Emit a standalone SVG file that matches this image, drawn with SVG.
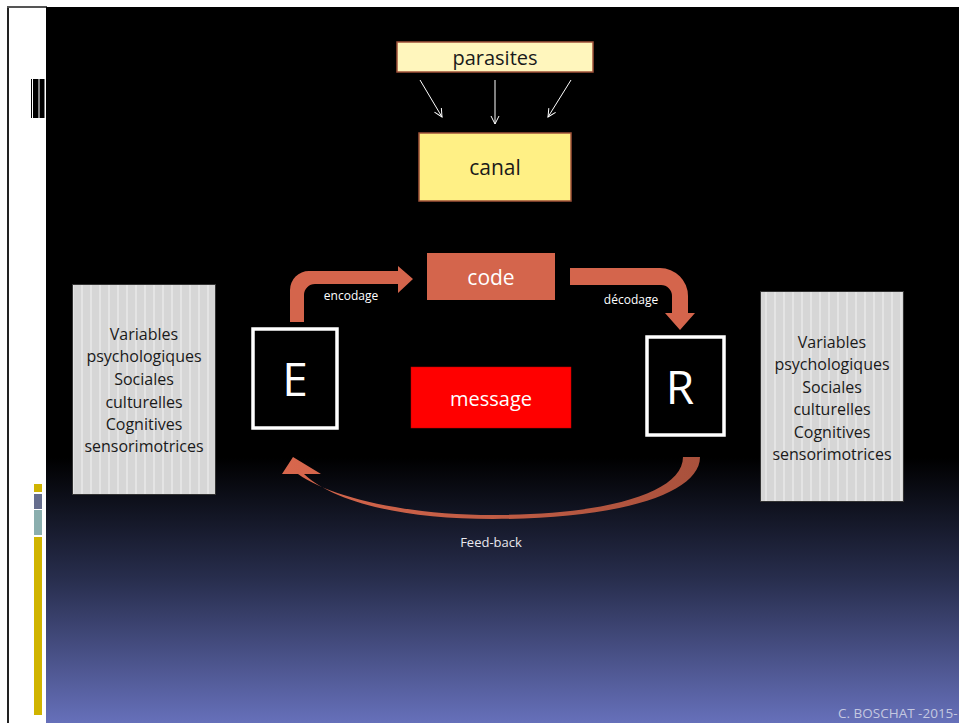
<svg xmlns="http://www.w3.org/2000/svg" width="959" height="723" viewBox="0 0 959 723">
  <defs>
    <linearGradient id="panelBg" x1="0" y1="7" x2="0" y2="723" gradientUnits="userSpaceOnUse">
      <stop offset="0" stop-color="#000000"/>
      <stop offset="0.63" stop-color="#000000"/>
      <stop offset="0.8" stop-color="#282e4e"/>
      <stop offset="1" stop-color="#6670ba"/>
    </linearGradient>
    <linearGradient id="feedFill" x1="700" y1="0" x2="282" y2="0" gradientUnits="userSpaceOnUse">
      <stop offset="0" stop-color="#a9513c"/>
      <stop offset="1" stop-color="#d8674d"/>
    </linearGradient>
    <pattern id="stripes" x="72" y="0" width="9" height="10" patternUnits="userSpaceOnUse">
      <rect width="9" height="10" fill="#d6d6d6"/>
      <rect x="0" width="2" height="10" fill="#e4e4e4"/>
    </pattern>
    <marker id="openHead" viewBox="0 0 10 10" refX="9" refY="5" markerWidth="10" markerHeight="10" markerUnits="userSpaceOnUse" orient="auto">
      <path d="M1,1 L9,5 L1,9" fill="none" stroke="#ffffff" stroke-width="1"/>
    </marker>
    <style>
      .lbl { font-family: "Open Sans", "Liberation Sans", sans-serif; text-anchor: middle; }
      .dark { fill: #1a1a1a; }
      .white { fill: #ffffff; }
      .var { font-size: 16px; fill: #1a1a1a; }
      .small { font-size: 12px; fill: #ffffff; }
      .yel { stroke: #a0523a; stroke-width: 1.5; }
      .varbox { fill: url(#stripes); stroke: #333333; stroke-width: 1; }
      .agent { fill: #000000; stroke: #ffffff; stroke-width: 3.5; }
      .thin { stroke: #ffffff; stroke-width: 1; fill: none; marker-end: url(#openHead); }
      .band { fill: #d4654c; }
    </style>
  </defs>

  <!-- page and slide frame -->
  <rect x="0" y="0" width="959" height="723" fill="#ffffff"/>
  <rect x="7" y="6" width="2" height="717" fill="#222222"/>
  <rect x="7" y="6" width="40" height="2" fill="#555555"/>
  <rect x="46" y="7" width="913" height="716" fill="url(#panelBg)"/>

  <!-- left margin ornaments -->
  <g id="ornaments">
    <rect x="31" y="79" width="1" height="39" fill="#000000"/>
    <rect x="33" y="79" width="5.5" height="39" fill="#000000"/>
    <rect x="39.5" y="79" width="5" height="39" fill="#000000"/>
    <rect x="34" y="484" width="8" height="8" fill="#d0b400"/>
    <rect x="34" y="494" width="8" height="15" fill="#666e8e"/>
    <rect x="34" y="510" width="8" height="25" fill="#8aaeae"/>
    <rect x="34" y="537" width="8" height="178" fill="#d0b400"/>
  </g>

  <!-- connectors -->
  <g id="connectors">
    <line class="thin" x1="420" y1="80" x2="442" y2="117"/>
    <line class="thin" x1="495" y1="80" x2="495" y2="124"/>
    <line class="thin" x1="571" y1="80" x2="548" y2="117"/>
    <path id="encodage" class="band" d="M290,322 L290,290 A19,19 0 0 1 309,271 L398,271 L398,266 L413,279 L398,293 L398,284 L315,284 A11,11 0 0 0 304,295 L304,322 Z"/>
    <path id="decodage" class="band" d="M570,268 L660,268 A28,28 0 0 1 688,296 L688,313 L695,313 L680,330 L665,313 L672,313 L672,296 A11,11 0 0 0 661,285 L570,285 Z"/>
    <path id="feedback" fill="url(#feedFill)" d="M683,457 L700,457 C700,494 618,519 493,519 C405,519 335,503 304,474 L321,474 L293,457 L282,474 L298,474 C330,497 405,515 493,515 C602,515 683,494 683,457 Z"/>
    <text class="lbl small" x="351" y="300">encodage</text>
    <text class="lbl small" x="631" y="304">décodage</text>
    <text class="lbl" x="491" y="547" font-size="13" fill="#e8e8ee">Feed-back</text>
  </g>

  <g id="parasites">
    <rect class="yel" x="397" y="42" width="196" height="30" fill="#fff6bd"/>
    <text class="lbl dark" x="495" y="65" font-size="20">parasites</text>
  </g>

  <g id="canal">
    <rect class="yel" x="419" y="133" width="152" height="68" fill="#fff085"/>
    <text class="lbl dark" x="495" y="175" font-size="21">canal</text>
  </g>

  <g id="code">
    <rect x="427" y="253" width="128" height="47" fill="#d4654c"/>
    <text class="lbl white" x="491" y="285" font-size="21">code</text>
  </g>

  <g id="message">
    <rect x="411" y="367" width="160" height="61" fill="#ff0000" stroke="#c00000" stroke-width="0.5"/>
    <text class="lbl white" x="491" y="406" font-size="20">message</text>
  </g>

  <g id="emetteur">
    <rect class="agent" x="253" y="329" width="84" height="99"/>
    <text class="lbl white" x="295" y="396" font-size="46">E</text>
  </g>

  <g id="recepteur">
    <rect class="agent" x="647" y="337" width="77" height="98"/>
    <text class="lbl white" x="680" y="404" font-size="46">R</text>
  </g>

  <g id="variables-e">
    <rect class="varbox" x="72.5" y="284.5" width="143" height="210"/>
    <text class="lbl var" x="144" y="340">Variables</text>
    <text class="lbl var" x="144" y="362">psychologiques</text>
    <text class="lbl var" x="144" y="385">Sociales</text>
    <text class="lbl var" x="144" y="408">culturelles</text>
    <text class="lbl var" x="144" y="430">Cognitives</text>
    <text class="lbl var" x="144" y="452">sensorimotrices</text>
  </g>

  <g id="variables-r">
    <rect class="varbox" x="760.5" y="291.5" width="143" height="210"/>
    <text class="lbl var" x="832" y="348">Variables</text>
    <text class="lbl var" x="832" y="370">psychologiques</text>
    <text class="lbl var" x="832" y="393">Sociales</text>
    <text class="lbl var" x="832" y="415">culturelles</text>
    <text class="lbl var" x="832" y="438">Cognitives</text>
    <text class="lbl var" x="832" y="460">sensorimotrices</text>
  </g>

  <text x="838" y="718" font-family="'Open Sans', 'Liberation Sans', sans-serif" font-size="13.5" fill="#c4c8e0">C. BOSCHAT -2015-</text>
</svg>
